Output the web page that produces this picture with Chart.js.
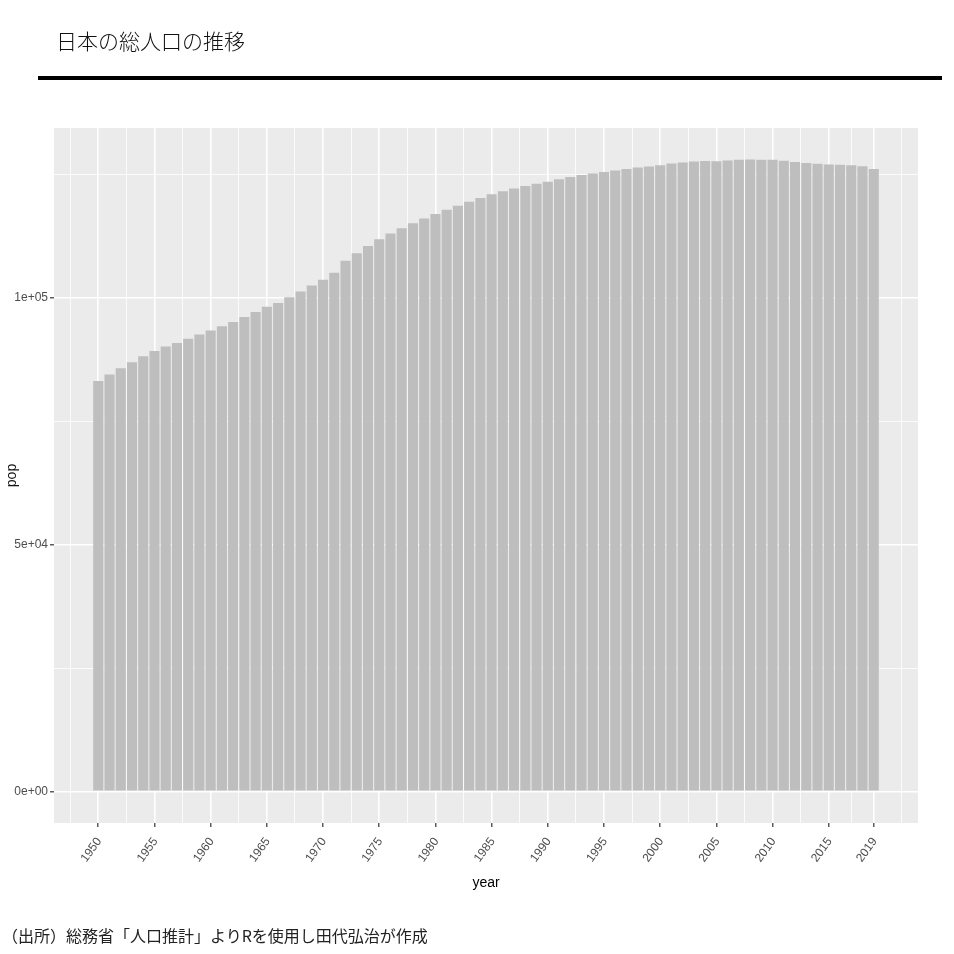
<!DOCTYPE html>
<html lang="ja">
<head>
<meta charset="utf-8">
<title>日本の総人口の推移</title>
<script src="https://cdn.jsdelivr.net/npm/chart.js@4/dist/chart.umd.min.js"></script>
<style>
  html, body { margin: 0; padding: 0; background: #fff; }
  #wrap { position: relative; width: 954px; height: 954px; overflow: hidden; }
  #popChart { position: absolute; left: 0; top: 0; }
  #title {
    position: absolute; left: 56px; top: 25px;
    font-family: "Noto Sans CJK JP", sans-serif; font-weight: 300;
    font-size: 21px; line-height: 30px; color: #111; white-space: nowrap;
  }
  #rule { position: absolute; left: 38px; top: 76px; width: 904px; height: 4px; background: #000; }
  #source {
    position: absolute; left: 2px; top: 922px;
    font-family: "Noto Sans CJK JP", sans-serif;
    font-size: 16px; line-height: 26px; color: #222; white-space: nowrap;
  }
</style>
</head>
<body>
<div id="wrap">
  <canvas id="popChart" width="954" height="954"></canvas>
  <div id="title">日本の総人口の推移</div>
  <div id="rule"></div>
  <div id="source">（出所）総務省「人口推計」よりRを使用し田代弘治が作成</div>
</div>
<script>
// 総人口（千人, 各年10月1日）
const years = [
  1950, 1951, 1952, 1953, 1954, 1955, 1956, 1957, 1958, 1959,
  1960, 1961, 1962, 1963, 1964, 1965, 1966, 1967, 1968, 1969,
  1970, 1971, 1972, 1973, 1974, 1975, 1976, 1977, 1978, 1979,
  1980, 1981, 1982, 1983, 1984, 1985, 1986, 1987, 1988, 1989,
  1990, 1991, 1992, 1993, 1994, 1995, 1996, 1997, 1998, 1999,
  2000, 2001, 2002, 2003, 2004, 2005, 2006, 2007, 2008, 2009,
  2010, 2011, 2012, 2013, 2014, 2015, 2016, 2017, 2018, 2019
];
const pop = [
  83200, 84541, 85808, 86981, 88239, 89276, 90172, 90928, 91767, 92641,
  93419, 94287, 95181, 96156, 97182, 98275, 99036, 100196, 101331, 102536,
  103720, 105145, 107595, 109104, 110573, 111940, 113094, 114165, 115190, 116155,
  117060, 117902, 118728, 119536, 120305, 121049, 121660, 122239, 122745, 123205,
  123611, 124101, 124567, 124938, 125265, 125570, 125859, 126157, 126472, 126667,
  126926, 127316, 127486, 127694, 127787, 127768, 127901, 128033, 128084, 128032,
  128057, 127834, 127593, 127414, 127237, 127095, 127042, 126919, 126749, 126167
];

// 軸の目盛り
const xBreaks = [1950, 1955, 1960, 1965, 1970, 1975, 1980, 1985, 1990, 1995, 2000, 2005, 2010, 2015, 2019];
const xMinorBreaks = [1947.5, 1952.5, 1957.5, 1962.5, 1967.5, 1972.5, 1977.5, 1982.5, 1987.5, 1992.5, 1997.5, 2002.5, 2007.5, 2012.5, 2017, 2021.5];
const yBreaks = [0, 50000, 100000];
const yBreakLabels = ['0e+00', '5e+04', '1e+05'];
const yMinorBreaks = [25000, 75000, 125000];

const xLimits = [1946.06, 2022.94];
const yLimits = [-6404, 134488];

const panelBg = {
  id: 'panelBg',
  beforeDraw(chart) {
    const a = chart.chartArea;
    const ctx = chart.ctx;
    ctx.save();
    ctx.fillStyle = '#EBEBEB';
    ctx.fillRect(a.left, a.top, a.right - a.left, a.bottom - a.top);
    ctx.restore();
  }
};

const isMajorX = v => xBreaks.includes(v);
const isMajorY = v => yBreaks.includes(v);

new Chart(document.getElementById('popChart'), {
  type: 'bar',
  data: {
    labels: years,
    datasets: [{
      label: 'pop',
      data: pop,
      backgroundColor: '#BEBEBE',
      borderWidth: 0,
      barPercentage: 0.9,
      categoryPercentage: 1.0
    }]
  },
  options: {
    responsive: false,
    animation: false,
    devicePixelRatio: 1,
    layout: { padding: { left: 4, top: 128, right: 36, bottom: 62 } },
    plugins: {
      legend: { display: false },
      tooltip: { enabled: false }
    },
    scales: {
      x: {
        type: 'linear',
        offset: false,
        min: xLimits[0],
        max: xLimits[1],
        afterBuildTicks: s => {
          s.ticks = xMinorBreaks.concat(xBreaks).sort((a, b) => a - b).map(v => ({ value: v }));
        },
        afterFit: s => { s.height = 69; },
        ticks: {
          autoSkip: false,
          minRotation: 54,
          maxRotation: 54,
          padding: 8,
          labelOffset: 1,
          color: '#4D4D4D',
          font: { family: '"Liberation Sans", Arial, sans-serif', size: 12 },
          callback: v => isMajorX(v) ? String(v) : ''
        },
        grid: {
          offset: false,
          color: '#FFFFFF',
          lineWidth: c => (c.tick && isMajorX(c.tick.value)) ? 1.6 : 0.8,
          tickLength: 4,
          tickWidth: 1.2,
          tickColor: c => (c.tick && isMajorX(c.tick.value)) ? '#333333' : 'rgba(0,0,0,0)'
        },
        border: { display: false },
        title: {
          display: true,
          text: 'year',
          color: '#000',
          padding: 0,
          font: { family: '"Liberation Sans", sans-serif', size: 14 }
        }
      },
      y: {
        min: yLimits[0],
        max: yLimits[1],
        afterBuildTicks: s => {
          s.ticks = yBreaks.concat(yMinorBreaks).sort((a, b) => a - b).map(v => ({ value: v }));
        },
        afterFit: s => { s.width = 50; },
        ticks: {
          autoSkip: false,
          padding: 2,
          color: '#4D4D4D',
          font: { family: '"Liberation Sans", sans-serif', size: 12 },
          callback: v => { const i = yBreaks.indexOf(v); return i >= 0 ? yBreakLabels[i] : ''; }
        },
        grid: {
          color: '#FFFFFF',
          lineWidth: c => (c.tick && isMajorY(c.tick.value)) ? 1.6 : 0.8,
          tickLength: 4,
          tickWidth: 1.2,
          tickColor: c => (c.tick && isMajorY(c.tick.value)) ? '#333333' : 'rgba(0,0,0,0)'
        },
        border: { display: false },
        title: {
          display: true,
          text: 'pop',
          color: '#111',
          padding: 0,
          font: { family: '"Liberation Sans", sans-serif', size: 14 }
        }
      }
    }
  },
  plugins: [panelBg]
});
</script>
</body>
</html>
